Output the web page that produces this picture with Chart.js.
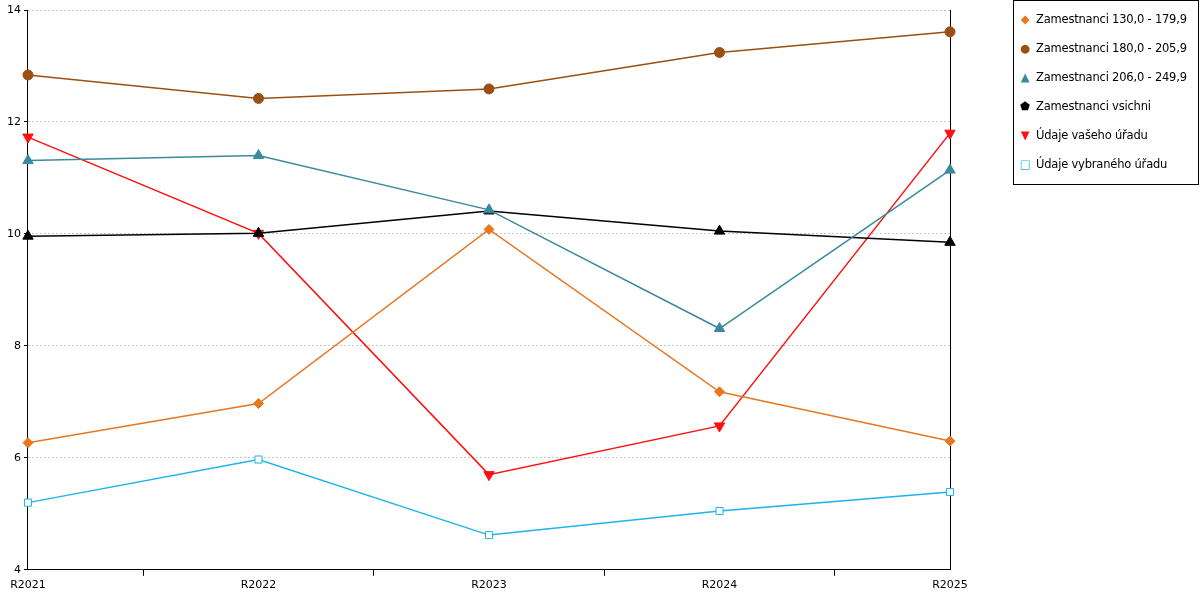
<!DOCTYPE html>
<html>
<head>
<meta charset="utf-8">
<script src="https://cdn.jsdelivr.net/npm/chart.js@4"></script>
<style>
  body{margin:0;background:#fff;font-family:"DejaVu Sans",sans-serif;}
  #wrap{position:relative;width:1200px;height:600px;}
  #legend{position:absolute;left:1013px;top:0px;width:186px;height:185px;border:1px solid #000;box-sizing:border-box;font-size:11.5px;padding:11px 0 0 5px;white-space:nowrap;letter-spacing:-0.2px;}
  #legend div{height:29px;display:flex;align-items:flex-start;}
  #legend span.m{display:inline-block;width:12px;margin-right:5px;text-align:center;}
</style>
</head>
<body>
<div id="wrap">
<canvas id="c" width="1200" height="600"></canvas>
<div id="legend"></div>
</div>
<script>
var labels = ['R2021','R2022','R2023','R2024','R2025']
var s130 = [6.27, 6.97, 10.08, 7.18, 6.30]
var s180 = [12.84, 12.42, 12.59, 13.24, 13.61]
var s206 = [11.31, 11.40, 10.43, 8.31, 11.14]
var sAll = [9.96, 10.01, 10.41, 10.05, 9.85]
var sVas = [11.73, 10.01, 5.70, 6.57, 11.80]
var sVyb = [5.20, 5.97, 4.62, 5.05, 5.39]

var series = [
  {label:'Zamestnanci 130,0 - 179,9', data:s130, color:'#e87722', style:'rectRot', r:5, sym:'◆'},
  {label:'Zamestnanci 180,0 - 205,9', data:s180, color:'#9c4f12', style:'circle', r:5, sym:'●'},
  {label:'Zamestnanci 206,0 - 249,9', data:s206, color:'#3a8a9e', style:'triangle', r:6, sym:'▲'},
  {label:'Zamestnanci vsichni', data:sAll, color:'#000000', style:'triangle', r:6, sym:'⬟'},
  {label:'Údaje vašeho úřadu', data:sVas, color:'#ff1010', style:'triangle', r:6, rot:180, sym:'▼'},
  {label:'Údaje vybraného úřadu', data:sVyb, color:'#1cb4ec', style:'rect', r:5, hollow:true, sym:'□'}
]

var leg = document.getElementById('legend')
series.forEach(function(s){
  var d = document.createElement('div')
  d.innerHTML = '<span class="m" style="color:'+s.color+'">'+s.sym+'</span>'+s.label
  leg.appendChild(d)
})

var ctx = document.getElementById('c').getContext('2d');
var myChart = new Chart(ctx, {
  type: 'line',
  data:{
    labels: labels,
    datasets: series.map(function(s){
      return {
        label: s.label,
        data: s.data,
        borderColor: s.color,
        borderWidth: 1.5,
        backgroundColor: s.hollow ? '#fff' : s.color,
        pointStyle: s.style,
        pointRadius: s.r,
        pointRotation: s.rot || 0,
        pointBorderWidth: 1,
        tension: 0
      }
    })
  },
  options:{
    responsive: false,
    animation: false,
    layout:{ padding:{ left:4, right:242, top:10, bottom:5 } },
    scales:{
      x:{
        offset: false,
        grid:{ display:true, offset:true, drawOnChartArea:false, color:'#000', tickLength:6 },
        border:{ color:'#000' },
        ticks:{ color:'#000', font:{ family:'DejaVu Sans', size:11 }, maxRotation:0 }
      },
      y:{
        min: 4, max: 14,
        ticks:{ stepSize:2, color:'#000', font:{ family:'DejaVu Sans', size:11 } },
        grid:{ color:'#c8c8c8', tickLength:4, tickColor:'#000', drawTicks:true },
        border:{ color:'#000', dash:[2,2] }
      },
      y2:{
        position:'right', min:4, max:14,
        ticks:{ display:false },
        grid:{ display:false },
        border:{ color:'#000' }
      }
    },
    plugins:{
      legend:{ display:false },
      tooltip:{ enabled:false }
    }
  }
});
</script>
</body>
</html>
